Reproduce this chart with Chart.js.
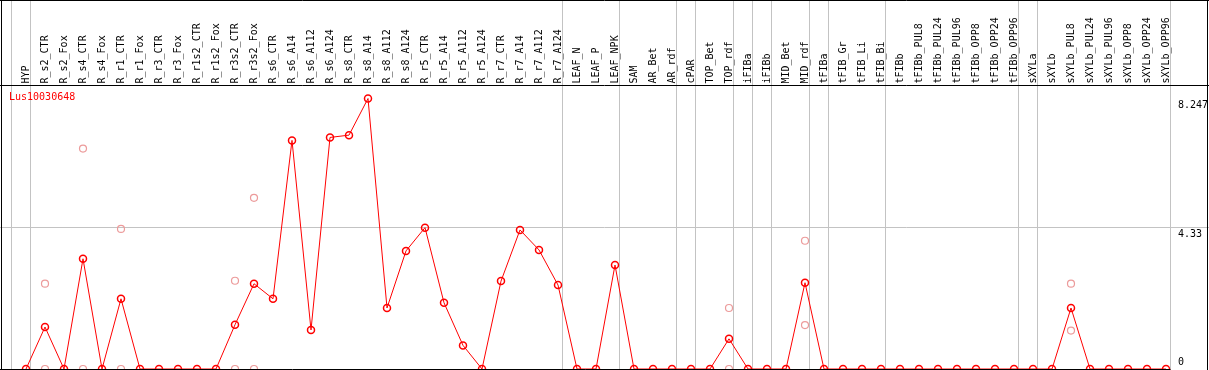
<!DOCTYPE html>
<html>
<head>
<meta charset="utf-8">
<script src="https://cdn.jsdelivr.net/npm/chart.js@4/dist/chart.umd.min.js"></script>
<style>
html,body{margin:0;padding:0;background:#fff;}
#wrap{width:1209px;height:370px;position:relative;}
canvas{display:block;}
</style>
</head>
<body>
<div id="wrap"><canvas id="c" width="1209" height="370"></canvas></div>
<script>
const categories = ["HYP","R_s2_CTR","R_s2_Fox","R_s4_CTR","R_s4_Fox","R_r1_CTR","R_r1_Fox","R_r3_CTR","R_r3_Fox","R_r1s2_CTR","R_r1s2_Fox","R_r3s2_CTR","R_r3s2_Fox","R_s6_CTR","R_s6_A14","R_s6_A112","R_s6_A124","R_s8_CTR","R_s8_A14","R_s8_A112","R_s8_A124","R_r5_CTR","R_r5_A14","R_r5_A112","R_r5_A124","R_r7_CTR","R_r7_A14","R_r7_A112","R_r7_A124","LEAF_N","LEAF_P","LEAF_NPK","SAM","AR_Bet","AR_rdf","cPAR","TOP_Bet","TOP_rdf","iFIBa","iFIBb","MID_Bet","MID_rdf","tFIBa","tFIB_Gr","tFIB_Li","tFIB_Bi","tFIBb","tFIBb_PUL8","tFIBb_PUL24","tFIBb_PUL96","tFIBb_OPP8","tFIBb_OPP24","tFIBb_OPP96","sXYLa","sXYLb","sXYLb_PUL8","sXYLb_PUL24","sXYLb_PUL96","sXYLb_OPP8","sXYLb_OPP24","sXYLb_OPP96"];

const meanValues = [0,1.28,0,3.36,0,2.14,0,0,0,0,0,1.35,2.60,2.14,6.97,1.19,7.06,7.13,8.247,1.86,
  3.60,4.31,2.02,0.72,0,2.68,4.24,3.63,2.56,0,0,3.17,0,0,0,0,0,0.92,0,0,
  0,2.63,0,0,0,0,0,0,0,0,0,0,0,0,0,1.86,0,0,0,0,0];

const replicateA = [null,2.60,null,6.72,null,4.27,null,null,null,null,null,2.69,5.22,null,null,null,null,null,null,null,
  null,null,null,null,null,null,null,null,null,null,null,null,null,null,null,null,null,1.86,null,null,
  null,3.91,null,null,null,null,null,null,null,null,null,null,null,null,null,2.60,null,null,null,null,null];

const replicateB = [null,0,null,0,null,0,null,null,null,null,null,0,0,null,null,null,null,null,null,null,
  null,null,null,null,null,null,null,null,null,null,null,null,null,null,null,null,null,0,null,null,
  null,1.34,null,null,null,null,null,null,null,null,null,null,null,null,null,1.17,null,null,null,null,null];

const yTickLabels = [8.247, 4.33, 0];
const yGridValues = [4.33];
// index of last category in each group (separator drawn just after it)
const groupEnds = [-1,0,28,31,34,35,37,38,39,41,42,45,52,53,60];
const seriesName = "Lus10030648";

const FONT = '10px "DejaVu Sans Mono", monospace';
const GRID = '#c3c3c3';

const framePlugin = {
  id: 'frame',
  beforeDatasetsDraw(chart) {
    const ctx = chart.ctx;
    const xs = chart.scales.x, ys = chart.scales.y;
    const W = chart.width, H = chart.height;
    ctx.save();
    ctx.strokeStyle = GRID;
    ctx.lineWidth = 1;
    groupEnds.forEach(i => {
      const x = Math.round((xs.getPixelForValue(i) + xs.getPixelForValue(i + 1)) / 2 - 5.2) + 0.5;
      ctx.beginPath(); ctx.moveTo(x, 0); ctx.lineTo(x, H); ctx.stroke();
    });
    yGridValues.forEach(v => {
      const y = Math.round(ys.getPixelForValue(v)) + 0.5;
      ctx.beginPath(); ctx.moveTo(0, y); ctx.lineTo(W, y); ctx.stroke();
    });
    ctx.restore();
  },
  afterDraw(chart) {
    const ctx = chart.ctx;
    const xs = chart.scales.x, ys = chart.scales.y;
    const W = chart.width, H = chart.height;
    ctx.save();
    ctx.strokeStyle = '#000';
    ctx.lineWidth = 1;
    const rightX = Math.round((xs.getPixelForValue(60) + xs.getPixelForValue(61)) / 2 - 5.2) + 0.5;
    ctx.beginPath();
    ctx.moveTo(0, 0.5); ctx.lineTo(W, 0.5);
    ctx.moveTo(0, 85.5); ctx.lineTo(W, 85.5);
    ctx.moveTo(1.5, 0); ctx.lineTo(1.5, H);
    ctx.moveTo(W - 1.5, 0); ctx.lineTo(W - 1.5, H);
    const by = Math.min(H - 0.5, Math.round(ys.getPixelForValue(0)) + 0.5);
    ctx.moveTo(0, by); ctx.lineTo(rightX, by);
    ctx.stroke();

    ctx.fillStyle = '#000';
    ctx.font = FONT;
    ctx.textAlign = 'left';
    ctx.textBaseline = 'middle';
    categories.forEach((c, i) => {
      const x = xs.getPixelForValue(i);
      ctx.save();
      ctx.translate(x, 83.5);
      ctx.rotate(-Math.PI / 2);
      ctx.fillText(c, 0, 0.5);
      ctx.restore();
    });

    ctx.textAlign = 'left';
    yTickLabels.forEach(v => {
      const y = ys.getPixelForValue(v);
      if (v === 0) { ctx.textBaseline = 'bottom'; ctx.fillText(String(v), rightX + 7.5, y - 2); }
      else { ctx.textBaseline = 'top'; ctx.fillText(String(v), rightX + 7.5, y + 2); }
    });

    ctx.fillStyle = '#ff0000';
    ctx.textBaseline = 'middle';
    ctx.fillText(seriesName, 9, 97.5);
    ctx.restore();
  }
};

new Chart(document.getElementById('c'), {
  type: 'line',
  data: {
    labels: categories,
    datasets: [
      { data: replicateA, showLine: false, clip: false, pointStyle: 'circle', pointRadius: 3.5,
        pointBorderWidth: 1.2, pointBorderColor: 'rgb(236,155,155)', pointBackgroundColor: 'rgba(0,0,0,0)', borderColor: 'rgb(236,155,155)' },
      { data: replicateB, showLine: false, clip: false, pointStyle: 'circle', pointRadius: 3.5,
        pointBorderWidth: 1.2, pointBorderColor: 'rgb(236,155,155)', pointBackgroundColor: 'rgba(0,0,0,0)', borderColor: 'rgb(236,155,155)' },
      { data: meanValues, clip: false, borderColor: '#ff0000', borderWidth: 1, tension: 0,
        pointStyle: 'circle', pointRadius: 3.5, pointBorderWidth: 1.5,
        pointBorderColor: '#ff0000', pointBackgroundColor: 'rgba(0,0,0,0)' }
    ]
  },
  options: {
    responsive: false,
    animation: false,
    devicePixelRatio: 1,
    layout: { autoPadding: false, padding: { left: 16.5, right: 33.5, top: 98.5, bottom: 1 } },
    plugins: { legend: { display: false }, tooltip: { enabled: false } },
    scales: {
      x: { type: 'category', offset: true, display: false },
      y: { type: 'linear', min: 0, max: 8.247, display: false }
    }
  },
  plugins: [framePlugin]
});
</script>
</body>
</html>
